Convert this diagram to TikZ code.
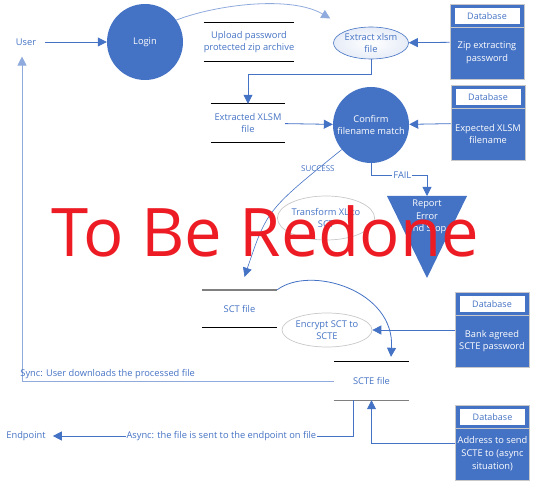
\documentclass[tikz,border=0pt]{standalone}
\usepackage{fontspec}
\setmainfont{Open Sans}
\usetikzlibrary{arrows.meta,shapes.geometric}
\definecolor{dfdblue}{RGB}{68,114,196}
\definecolor{dfdlight}{RGB}{143,170,220}
\definecolor{dfdgray}{RGB}{127,127,127}
\definecolor{dfdedge}{RGB}{200,200,200}
\definecolor{dfdred}{RGB}{237,28,36}
\tikzset{>={Triangle[width=9pt,length=9pt]}}
\tikzset{
  flow/.style={->, dfdblue, line width=0.8pt},
  lbl/.style={text=dfdblue, font=\fontsize{9.3}{12.5}\selectfont, align=center, inner sep=1pt},
  proc/.style={circle, fill=dfdblue, text=white, minimum size=76pt, inner sep=0pt,
    font=\fontsize{9.3}{12.5}\selectfont, align=center},
  oval/.style={ellipse, draw=dfdblue, line width=0.6pt, inner color=white,
    outer color=dfdlight!22, minimum width=75pt, minimum height=32pt, inner sep=0pt,
    text=dfdblue, font=\fontsize{9.3}{12.5}\selectfont, align=center},
  graveoval/.style={ellipse, draw=dfdedge, line width=0.7pt, minimum width=90pt,
    minimum height=44pt, inner sep=0pt, text=dfdblue,
    font=\fontsize{9.3}{12.5}\selectfont, align=center},
  store/.style={minimum width=76pt, minimum height=38pt, inner sep=0pt, text=dfdblue,
    font=\fontsize{9.3}{12.5}\selectfont, align=center},
  storeline/.style={black, line width=0.8pt},
  dbbox/.style={rectangle, fill=dfdblue, draw=dfdedge, line width=1pt,
    minimum width=74pt, minimum height=75pt},
  dbhead/.style={rectangle, fill=white, minimum width=65pt, minimum height=16pt,
    inner sep=0pt, text=dfdblue, font=\fontsize{9}{10}\selectfont},
  dbtext/.style={text=white, align=center, inner sep=0pt,
    font=\fontsize{9.3}{12.8}\selectfont},
  redone/.style={text=dfdred, font=\fontsize{67}{67}\selectfont, inner sep=0pt}
}
% database box: name, position, text
\newcommand{\dbnode}[3]{%
  \node[dbbox] (#1) at (#2) {};
  \node[dbhead] (#1-head) at ([yshift=-12pt]#1.north) {Database};
  \draw[dfdedge, line width=0.8pt] ([yshift=-23pt]#1.north west) -- ([yshift=-23pt]#1.north east);
  \node[dbtext] (#1-text) at ([yshift=-11pt]#1.center) {#3};
}

\begin{document}
\begin{tikzpicture}[x=1pt,y=-1pt]
	\useasboundingbox (0,0) rectangle (536,484);
	% entities
	\node[lbl] (user) at (26,42) {User};
	\node[lbl] (endpoint) at (26,436) {Endpoint};
	% processes
	\node[proc] (login) at (145,42) {Login};
	\node[proc] (confirm) at (371,125) {Confirm\\filename match};
	\node[oval] (extract) at (371,43) {Extract xlsm\\file};
	\node[graveoval] (transform) at (326,218) {Transform XL to\\SCT};
	\node[graveoval, minimum height=34pt] (encrypt) at (327,330) {Encrypt SCT to\\SCTE};
	\fill[dfdblue] (387,196) -- (467,196) -- (427,278) -- cycle;
	\coordinate (reptop) at (427,196);
	\node[lbl, text=white] (report) at (427,217) {Report\\Error\\and Stop};
	% data stores
	\node[store] (upload) at (249,42) {Upload password\\protected zip archive};
	\node[store, minimum width=74pt] (extracted) at (248,123) {Extracted XLSM\\file};
	\node[store, minimum width=75pt, minimum height=37pt] (sct) at (239.5,308.5) {SCT file};
	\node[store, minimum width=75pt] (scte) at (371.5,381) {SCTE file};
	\foreach \s in {upload,extracted,sct,scte}
		\draw[storeline] (\s.north west) -- (\s.north east) (\s.south west) -- (\s.south east);
	\draw[dfdgray, line width=1.4pt] (sct.north west) -- (sct.north east);
	\draw[dfdgray, line width=1.4pt] (scte.south west) -- (scte.south east);
	% databases
	\dbnode{zipdb}{487,42}{Zip extracting\\password}
	\dbnode{namedb}{488,123}{Expected XLSM\\filename}
	\dbnode{passdb}{492,330}{Bank agreed\\SCTE password}
	\dbnode{addrdb}{492.5,443}{Address to send\\SCTE to (async\\situation)}
	% flows
	\draw[flow, shorten <=8pt] (user) -- (login);
	\draw[flow, dfdlight] (login.35) .. controls (215,5) and (290,-5) .. ([shift={(-14,-13)}]extract.north west);
	\draw[flow] (zipdb) -- (extract);
	\draw[flow] (extract.south) -- ++(0,15) -| (extracted.north);
	\draw[flow] (extracted) -- (confirm);
	\draw[flow] (namedb) -- (confirm);
	\draw[flow, line width=0.6pt] (confirm.220) .. controls (267,210) .. ([shift={(5,-13)}]sct.north)
		node[lbl, pos=0.12, font=\fontsize{8}{9}\selectfont] {SUCCESS};
	\draw[flow] (confirm.south) -- ++(0,12) -| (reptop)
		node[lbl, pos=0.28, fill=white] {FAIL};
	\draw[flow] (passdb) -- (encrypt);
	\draw[flow] (sct.north east) .. controls (310,265) and (395,290) .. ([shift={(19.5,-5)}]scte.north);
	\draw[flow, dfdlight] (scte.west) -| ([shift={(-4,10)}]user.south)
		node[lbl, pos=0.5, anchor=south west, xshift=-3pt, yshift=1pt] {Sync: User downloads the processed file};
	\draw[flow, shorten >=6pt] ([xshift=-18.5pt]scte.south) |- (endpoint)
		node[lbl, pos=0.715, fill=white] {Async: the file is sent to the endpoint on file};
	\draw[flow] (addrdb.west) -| (scte.south);
	% overlay
	\node[redone, anchor=base] (stamp) at (265,256) {To Be Redone};
\end{tikzpicture}
\end{document}
